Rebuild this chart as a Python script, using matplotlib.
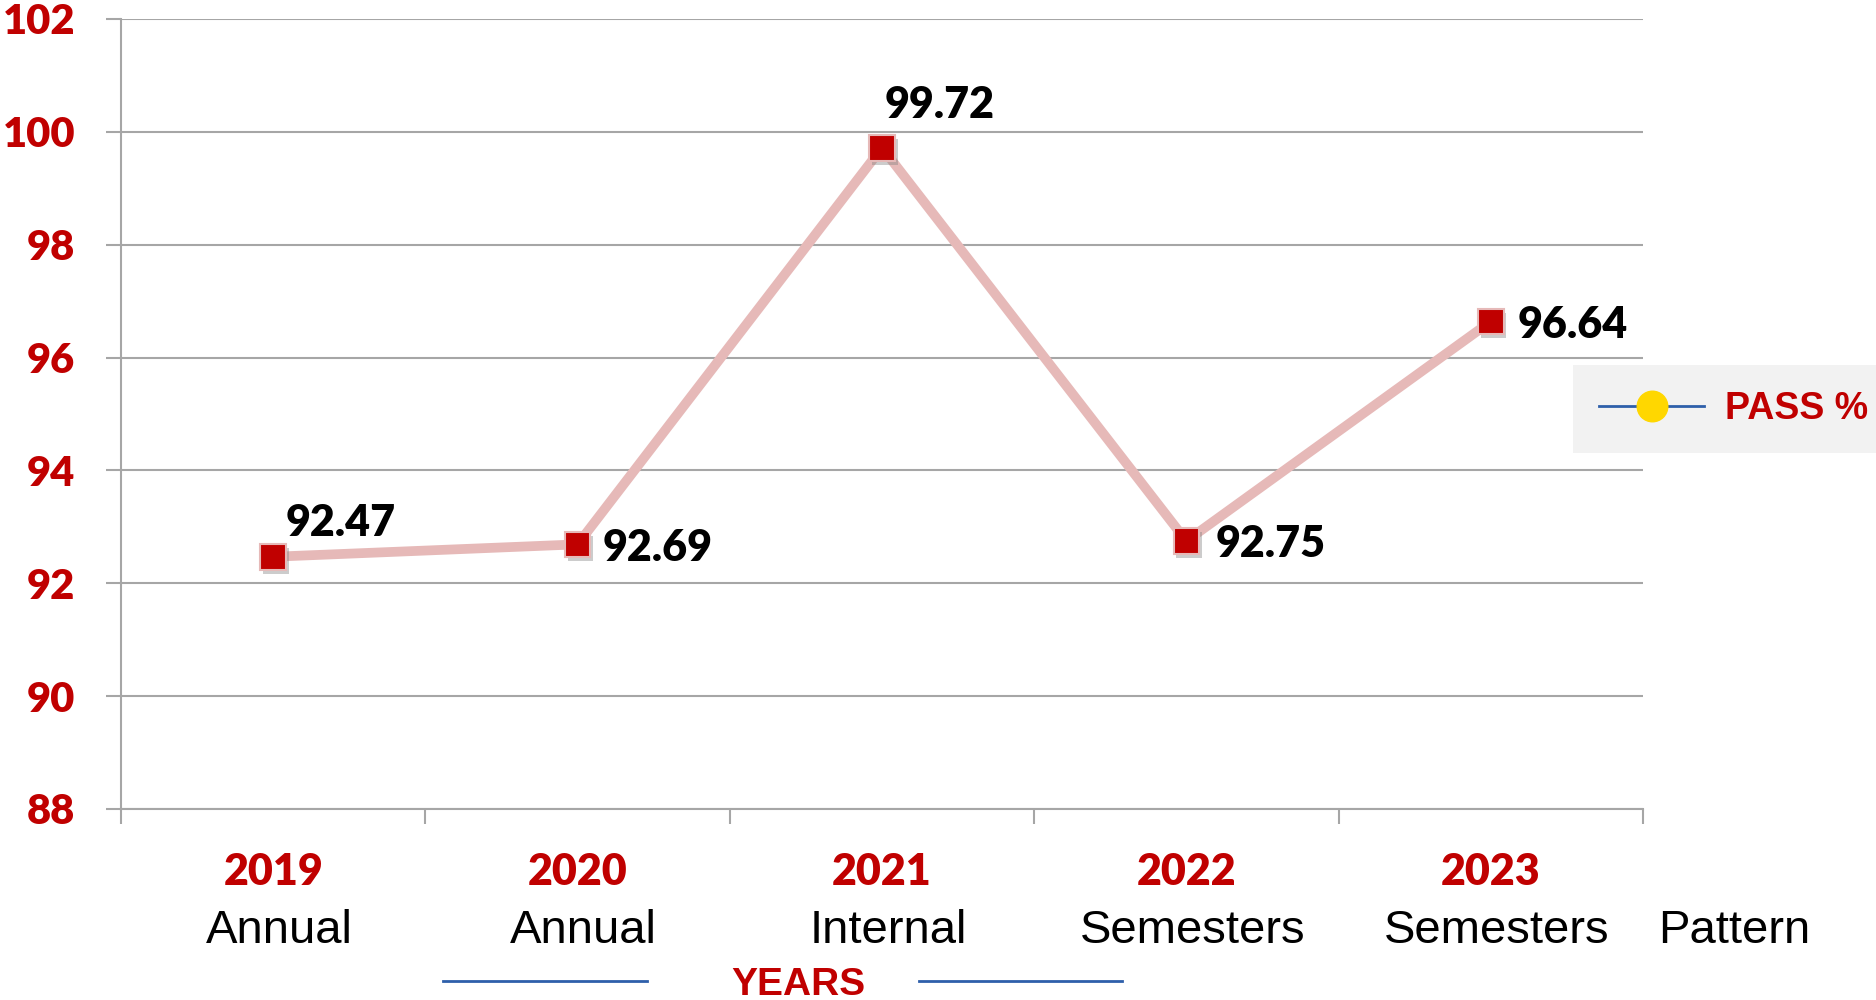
import matplotlib
matplotlib.use('Agg')
import matplotlib.pyplot as plt
import matplotlib.patheffects as pe
from matplotlib.lines import Line2D

years = ['2019', '2020', '2021', '2022', '2023']
patterns = ['Annual', 'Annual', 'Internal', 'Semesters', 'Semesters']
pass_pct = [92.47, 92.69, 99.72, 92.75, 96.64]
y_ticks = [88, 90, 92, 94, 96, 98, 100, 102]

# label offsets in points (dx, dy) from each marker
label_offsets = [(9, 27), (18, 0), (2, 33), (21, 0), (19, 0)]

RED = '#C00000'
GRID = '#A6A6A6'
NUM_FONT = 'Lato'
TXT_FONT = 'Liberation Sans'

fig = plt.figure(figsize=(18.76, 10), dpi=100)
ax = fig.add_axes([0.0645, 0.191, 0.8113, 0.790])

x = list(range(len(years)))
ax.plot(x, pass_pct, color='#E6B9B8', lw=7, solid_capstyle='butt', zorder=3)
ax.plot(x, pass_pct, ls='none', marker='s', ms=18.5, mfc=RED, mec='#E6B9B8', mew=1.5,
        zorder=4, path_effects=[pe.SimplePatchShadow(offset=(2, -3), shadow_rgbFace='#808080', alpha=0.4),
                                pe.Normal()])

for xi, v, (dx, dy) in zip(x, pass_pct, label_offsets):
    ax.annotate(f'{v:.2f}', (xi, v), xytext=(dx, dy), textcoords='offset points',
                ha='left', va='center_baseline', fontsize=31, fontweight='heavy',
                family=NUM_FONT, color='black', zorder=5)

ax.set_xlim(-0.5, len(years) - 0.5)
ax.set_ylim(88, 102)
ax.set_yticks(y_ticks)
ax.yaxis.grid(True, color=GRID, lw=1.5)
ax.set_axisbelow(True)

ax.set_xticks(x)
ax.set_xticklabels(years)
ax.set_xticks([i - 0.5 for i in range(len(years) + 1)], minor=True)
ax.tick_params(axis='x', which='major', length=0, pad=31)
ax.tick_params(axis='x', which='minor', length=11, width=1.5, color=GRID)
ax.tick_params(axis='y', length=11, width=1.5, color=GRID, pad=22)
for lab in ax.get_xticklabels():
    lab.set_fontsize(31)
for lab in ax.get_yticklabels():
    lab.set_fontsize(30)
for lab in ax.get_xticklabels() + ax.get_yticklabels():
    lab.set_fontweight('heavy')
    lab.set_family(NUM_FONT)
    lab.set_color(RED)

for s in ['top', 'right']:
    ax.spines[s].set_visible(False)
for s in ['left', 'bottom']:
    ax.spines[s].set_color(GRID)
    ax.spines[s].set_linewidth(1.5)

tr = ax.get_xaxis_transform()
for xi, p in zip(x, patterns):
    ax.text(xi + 0.02, -0.154, p, transform=tr, ha='center', va='center',
            fontsize=34, family=TXT_FONT, color='black', clip_on=False)
ax.text(4.8, -0.154, 'Pattern', transform=tr, ha='center', va='center',
        fontsize=34, family=TXT_FONT, color='black', clip_on=False)

# axis title with its decorative rules
fig.text(0.4254, 0.033, 'YEARS', ha='center', va='top', fontsize=28,
         fontweight='bold', family=TXT_FONT, color=RED)
for x0, x1 in [(0.236, 0.345), (0.490, 0.598)]:
    fig.add_artist(Line2D([x0, x1], [0.019, 0.019], transform=fig.transFigure,
                          color='#2E5FAA', lw=2))

handle = Line2D([], [], color='#2E5FAA', lw=2, marker='o', ms=22,
                mfc='#FFD700', mec='#FFD700')
leg = fig.legend([handle], ['PASS %'], loc='center left',
                 bbox_to_anchor=(1573 / 1876, 1 - 409 / 1000),
                 frameon=True, fancybox=False, facecolor='#F2F2F2', edgecolor='none',
                 framealpha=1, handlelength=2.8, handletextpad=0.55, borderpad=0.7,
                 borderaxespad=0,
                 prop={'family': TXT_FONT, 'weight': 'bold', 'size': 27})
for t in leg.get_texts():
    t.set_color(RED)

fig.savefig('out.png', dpi=100)
